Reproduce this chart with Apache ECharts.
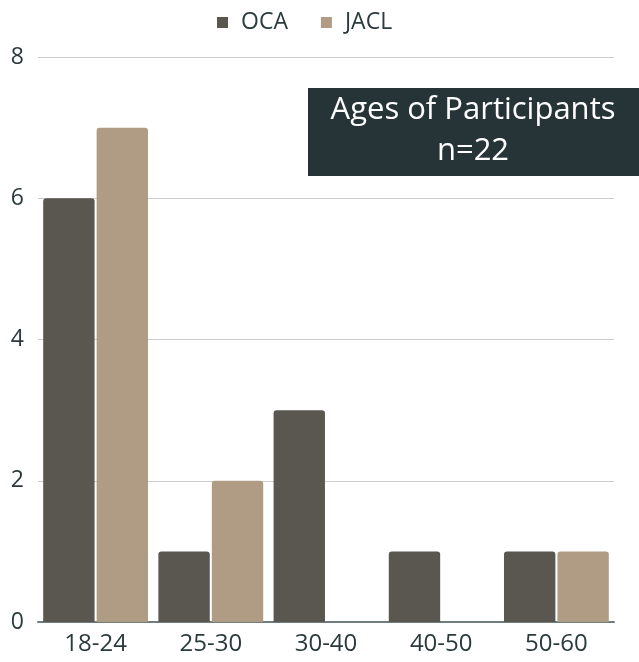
<!DOCTYPE html>
<html><head><meta charset="utf-8">
<script src="https://cdn.jsdelivr.net/npm/echarts@6/dist/echarts.min.js"></script>
<style>html,body{margin:0;padding:0;background:#fff}#c{width:639px;height:662px}</style>
</head><body><div id="c"></div>
<script>
const categories = ['18-24','25-30','30-40','40-50','50-60'];
const ocaValues = [6,1,3,1,1];
const jaclValues = [7,2,0,0,1];
const yTicks = [0,2,4,6,8];
const titleLines = ['Ages of Participants','n=22'];

const chart = echarts.init(document.getElementById('c'), null, {renderer:'canvas'});
chart.setOption({
  animation:false,
  backgroundColor:'#ffffff',
  legend:{
    top:6, left:212, itemWidth:11, itemHeight:11, itemGap:33, icon:'rect',
    textStyle:{fontFamily:'Open Sans', fontSize:23, color:'#2b3a3d', padding:[0,0,0,8]},
    data:['OCA','JACL']
  },
  grid:{left:38, right:25, top:57, bottom:40},
  xAxis:{
    type:'category', data:categories,
    axisLine:{lineStyle:{color:'#6f7d7f', width:2}},
    axisTick:{show:false},
    axisLabel:{fontFamily:'Open Sans', fontSize:24, color:'#2b3a3d', margin:10}
  },
  yAxis:{
    type:'value', min:yTicks[0], max:yTicks[yTicks.length-1], interval:2,
    axisLine:{show:false}, axisTick:{show:false},
    splitLine:{lineStyle:{color:'#cccccc', width:1}},
    axisLabel:{fontFamily:'Open Sans', fontSize:23, color:'#2b3a3d', margin:14}
  },
  series:[
    {name:'OCA', type:'bar', data:ocaValues, barGap:'4%', barCategoryGap:'9%',
     itemStyle:{color:'#5a5650', borderRadius:[3,3,0,0]}},
    {name:'JACL', type:'bar', data:jaclValues,
     itemStyle:{color:'#b09c84', borderRadius:[3,3,0,0]}}
  ],
  graphic:[
    {type:'rect', left:308, top:88, shape:{width:331, height:88}, style:{fill:'#263438'}, z:10},
    {type:'text', x:473, y:90, z:11,
     style:{text:titleLines.join('\n'), fill:'#ffffff', fontFamily:'Open Sans', fontSize:31, lineHeight:41, align:'center', verticalAlign:'top'}}
  ]
});
</script></body></html>
